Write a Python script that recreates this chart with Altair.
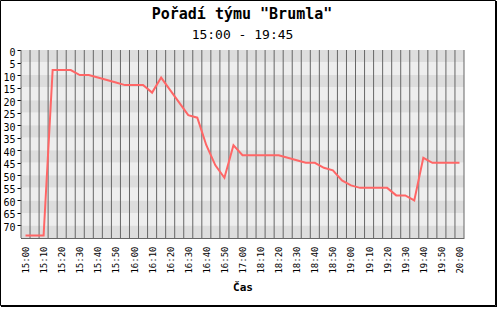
import altair as alt
import pandas as pd

# ---- data ----
times = [
    "15:00", "15:05", "15:10", "15:15", "15:20", "15:25", "15:30", "15:35", "15:40", "15:45",
    "15:50", "15:55", "16:00", "16:05", "16:10", "16:15", "16:20", "16:25", "16:30", "16:35",
    "16:40", "16:45", "16:50", "16:55", "17:00",
    "18:05", "18:10", "18:15", "18:20", "18:25", "18:30", "18:35", "18:40", "18:45", "18:50",
    "18:55", "19:00", "19:05", "19:10", "19:15", "19:20", "19:25", "19:30", "19:35", "19:40",
    "19:45", "19:50", "19:55", "20:00",
]
ranks = [
    74, 74, 74, 8, 8, 8, 10, 10, 11, 12,
    13, 14, 14, 14, 17, 11, 16, 21, 26, 27,
    38, 46, 51, 38, 42,
    42, 42, 42, 42, 43, 44, 45, 45, 47, 48,
    52, 54, 55, 55, 55, 55, 58, 58, 60, 43,
    45, 45, 45, 45,
]
y_ticks = [0, 5, 10, 15, 20, 25, 30, 35, 40, 45, 50, 55, 60, 65, 70]
y_max = 75
title_text = 'Pořadí týmu "Brumla"'
subtitle_text = "15:00 - 19:45"
x_title = "Čas"

MONO = "DejaVu Sans Mono"
W, H = 443, 188
PAD_L, PAD_T = 21, 50

df = pd.DataFrame({"i": list(range(len(times))), "time": times, "rank": ranks})
stripes = pd.DataFrame({
    "y": y_ticks,
    "y2": [v + 5 for v in y_ticks],
    "shade": ["a" if j % 2 == 0 else "b" for j in range(len(y_ticks))],
})
grid = pd.DataFrame({"gx": [k - 0.5 for k in range(len(times) + 1)]})

xscale = alt.Scale(domain=[-0.5, len(times) - 0.5], nice=False, zero=False)
yscale = alt.Scale(domain=[0, y_max], reverse=True, nice=False, zero=False)

label_js = "[" + ",".join("'%s'" % t for t in times) + "][datum.value]"

y_axis = alt.Axis(
    values=y_ticks, grid=False, title=None, tickSize=4, tickColor="#000",
    domainColor="#000", labelFont=MONO, labelFontSize=10, labelColor="#000",
    labelPadding=2, labelOffset=2, labelFlush=False, labelOverlap=False)
x_axis = alt.Axis(
    values=list(range(0, len(times), 2)), labelExpr=label_js, labelAngle=270,
    grid=False, ticks=False, domainColor="#666666", labelFont=MONO, labelFontSize=9,
    labelColor="#000", labelPadding=8, labelFlush=False, labelOverlap=False,
    title=x_title, titleFont=MONO, titleFontSize=11, titleFontWeight="bold",
    titleColor="#000", titlePadding=8)

stripe_layer = alt.Chart(stripes).mark_rect().encode(
    y=alt.Y("y:Q", scale=yscale, axis=y_axis),
    y2="y2:Q",
    color=alt.Color("shade:N", scale=alt.Scale(domain=["a", "b"], range=["#dddddd", "#eeeeee"]), legend=None),
)

grid_layer = alt.Chart(grid).mark_rule(color="#666666", strokeWidth=1).encode(
    x=alt.X("gx:Q", scale=xscale, axis=x_axis),
)

line_layer = alt.Chart(df).mark_line(color="#ff6666", strokeWidth=2).encode(
    x=alt.X("i:Q", scale=xscale, axis=x_axis),
    y=alt.Y("rank:Q", scale=yscale, axis=y_axis),
)

title_layer = alt.Chart(pd.DataFrame({"t": [title_text]})).mark_text(
    font=MONO, fontSize=15, fontWeight="bold", color="#000", align="center", baseline="alphabetic"
).encode(text="t:N", x=alt.value(242 - PAD_L), y=alt.value(18.5 - PAD_T))

subtitle_layer = alt.Chart(pd.DataFrame({"t": [subtitle_text]})).mark_text(
    font=MONO, fontSize=13, color="#000", align="center", baseline="alphabetic"
).encode(text="t:N", x=alt.value(242.5 - PAD_L), y=alt.value(38.5 - PAD_T))

frame_layer = alt.Chart(pd.DataFrame({"d": [0]})).mark_rect(
    filled=False, stroke="#000", strokeWidth=1
).encode(x=alt.value(0.5 - PAD_L), x2=alt.value(495.5 - PAD_L),
         y=alt.value(0.5 - PAD_T), y2=alt.value(305.5 - PAD_T))
shadow_r = alt.Chart(pd.DataFrame({"d": [0]})).mark_rule(color="#000", strokeWidth=1).encode(
    x=alt.value(496.5 - PAD_L), y=alt.value(1 - PAD_T), y2=alt.value(307 - PAD_T))
shadow_b = alt.Chart(pd.DataFrame({"d": [0]})).mark_rule(color="#000", strokeWidth=1).encode(
    y=alt.value(306.5 - PAD_T), x=alt.value(1 - PAD_L), x2=alt.value(497 - PAD_L))

chart = alt.layer(
    stripe_layer, grid_layer, line_layer, title_layer, subtitle_layer, frame_layer, shadow_r, shadow_b
).properties(
    width=W, height=H,
    autosize=alt.AutoSizeParams(type="none"),
    padding={"left": PAD_L, "top": PAD_T, "right": 500 - PAD_L - W, "bottom": 309 - PAD_T - H},
    background="white",
).configure_view(stroke=None)

chart.save("out.html", embed_options={"renderer": "svg", "actions": False})
